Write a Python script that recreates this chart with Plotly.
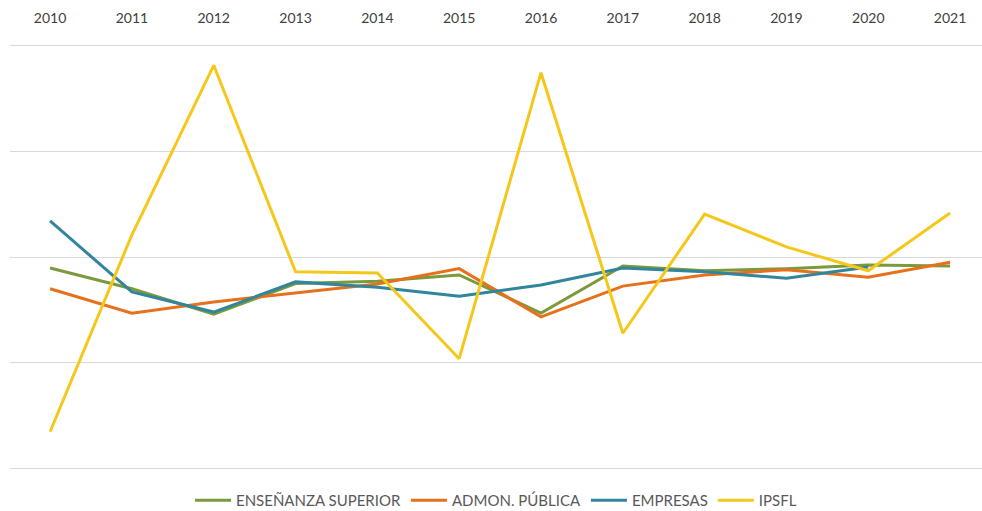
import plotly.graph_objects as go

years = ["2010", "2011", "2012", "2013", "2014", "2015", "2016", "2017", "2018", "2019", "2020", "2021"]
ensenanza = [-1.04, -3.0, -5.4, -2.5, -2.3, -1.7, -5.3, -0.85, -1.3, -1.1, -0.75, -0.85]
admon = [-3.0, -5.3, -4.25, -3.4, -2.55, -1.1, -5.65, -2.75, -1.7, -1.2, -1.9, -0.5]
empresas = [3.4, -3.3, -5.2, -2.35, -2.85, -3.7, -2.65, -1.05, -1.4, -2.0, -0.95, None]
ipsfl = [-16.5, 2.1, 18.1, -1.4, -1.5, -9.6, 17.4, -7.2, 4.05, 0.95, -1.3, 4.15]

series = [
    ("ENSEÑANZA SUPERIOR", ensenanza, "#7b9a3b"),
    ("ADMON. PÚBLICA", admon, "#e6701b"),
    ("EMPRESAS", empresas, "#31859c"),
    ("IPSFL", ipsfl, "#f6c71b"),
]

fig = go.Figure()
for name, vals, color in series:
    fig.add_trace(go.Scatter(x=years, y=vals, name=name, mode="lines",
                             line=dict(color=color, width=3)))

fig.update_layout(
    width=982, height=511,
    margin=dict(l=10, r=0, t=42, b=39, autoexpand=False),
    paper_bgcolor="white", plot_bgcolor="white",
    font=dict(family="Lato, sans-serif", color="#404040", size=14),
    showlegend=True,
    legend=dict(orientation="h", x=0.5, xanchor="center", y=-0.028, yanchor="top",
                font=dict(size=15, color="#595959"), traceorder="normal",
                itemwidth=36),
    xaxis=dict(type="category", side="top", showgrid=False, showline=False,
               ticks="", tickfont=dict(size=14, color="#404040"), automargin=False,
               range=[-0.49, 11.39], ticklabelstandoff=15),
    yaxis=dict(range=[-20.3, 20.3], tickvals=[-20, -10, 0, 10, 20], showticklabels=False,
               showgrid=True, automargin=False,
               gridcolor="#d9d9d9", gridwidth=1, zeroline=False, showline=False),
)

fig.write_html("out.html", config={"displayModeBar": False},
               post_script="document.body.style.margin='0';")
